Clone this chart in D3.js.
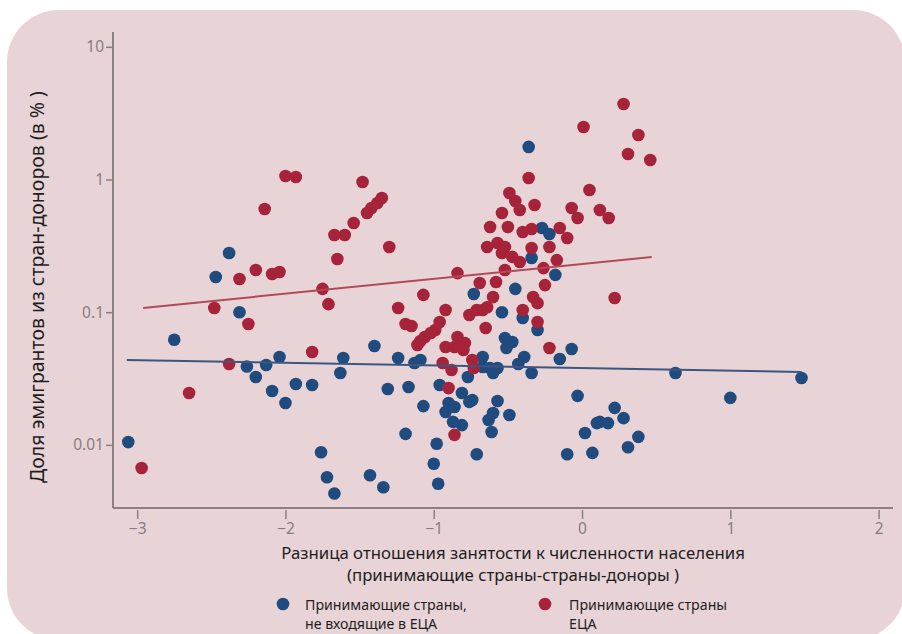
<!DOCTYPE html>
<html>
<head>
<meta charset="utf-8">
<script src="https://cdn.jsdelivr.net/npm/d3@7"></script>
<style>
  html, body { margin: 0; padding: 0; background: #ffffff; }
  svg { display: block; }
  text { font-family: "Noto Sans", "Open Sans", sans-serif; }
</style>
</head>
<body>
<svg id="chart" width="902" height="634"></svg>
<script>
// Non-ECA host countries: [employment-ratio gap, emigrant share %]
const nonEcaX = [-3.06,-2.75,-2.47,-2.38,-2.31,-2.26,-2.20,-2.13,-2.09,-2.04,-2.00,-1.93,-1.82,-1.76,-1.72,-1.67,-1.63,-1.61,-1.43,-1.40,
  -1.34,-1.31,-1.24,-1.19,-1.17,-1.13,-1.09,-1.07,-0.98,-1.00,-0.97,-0.96,-0.92,-0.90,-0.86,-0.87,-0.81,-0.81,-0.76,-0.77,
  -0.74,-0.73,-0.71,-0.67,-0.67,-0.63,-0.62,-0.61,-0.60,-0.60,-0.57,-0.57,-0.54,-0.52,-0.49,-0.51,-0.47,-0.49,-0.45,-0.43,
  -0.40,-0.39,-0.36,-0.34,-0.34,-0.30,-0.27,-0.22,-0.18,-0.15,-0.07,-0.10,-0.03,0.02,0.07,0.10,0.12,0.175,0.22,0.28,
  0.31,0.38,0.63,1.00,1.48];
const nonEcaY = [0.0105,0.062,0.184,0.279,0.100,0.039,0.0325,0.040,0.0255,0.046,0.0207,0.0288,0.0283,0.0088,0.0057,0.0043,0.0348,0.0452,0.0059,0.0556,
  0.0048,0.0264,0.0452,0.0121,0.0273,0.0414,0.0436,0.0196,0.0102,0.0072,0.0051,0.0283,0.0177,0.0207,0.0193,0.0149,0.0141,0.0246,0.0211,0.0325,
  0.0218,0.137,0.0085,0.0386,0.046,0.0154,0.038,0.0125,0.0174,0.0348,0.038,0.0214,0.100,0.0639,0.0586,0.0537,0.0596,0.0168,0.150,0.0407,
  0.0904,0.046,1.76,0.0348,0.256,0.0734,0.431,0.388,0.191,0.0444,0.0528,0.0085,0.0234,0.0123,0.0087,0.0146,0.0149,0.0146,0.019,0.0159,
  0.0096,0.0115,0.0348,0.0226,0.0319];

// ECA host countries
const ecaX = [-2.97,-2.65,-2.48,-2.38,-2.31,-2.25,-2.20,-2.14,-2.09,-2.04,-2.00,-1.93,-1.82,-1.75,-1.71,-1.67,-1.60,-1.65,-1.54,-1.48,
  -1.45,-1.42,-1.38,-1.35,-1.30,-1.24,-1.19,-1.15,-1.07,-1.11,-1.09,-1.06,-1.02,-0.99,-0.96,-0.92,-0.92,-0.94,-0.88,-0.90,
  -0.86,-0.84,-0.84,-0.79,-0.86,-0.80,-0.76,-0.71,-0.67,-0.74,-0.73,-0.69,-0.58,-0.65,-0.60,-0.64,-0.62,-0.64,-0.57,-0.52,
  -0.54,-0.54,-0.52,-0.49,-0.45,-0.42,-0.50,-0.47,-0.42,-0.40,-0.34,-0.40,-0.36,-0.34,-0.32,-0.33,-0.30,-0.30,-0.26,-0.25,
  -0.22,-0.17,-0.22,-0.15,-0.10,-0.07,-0.03,0.01,0.05,0.12,0.18,0.22,0.28,0.31,0.38,0.46];
const ecaY = [0.0067,0.0246,0.1075,0.0407,0.178,0.0815,0.208,0.599,0.194,0.201,1.063,1.044,0.0501,0.150,0.115,0.382,0.382,0.252,0.470,0.958,
  0.559,0.610,0.665,0.726,0.310,0.1075,0.0815,0.0787,0.135,0.0566,0.0607,0.065,0.0697,0.0734,0.0844,0.104,0.0547,0.0414,0.0367,0.0268,
  0.0119,0.197,0.065,0.0586,0.0547,0.0519,0.0953,0.104,0.104,0.0436,0.038,0.166,0.169,0.076,0.130,0.109,0.439,0.310,0.332,0.310,
  0.279,0.559,0.208,0.791,0.689,0.589,0.439,0.261,0.239,0.402,0.424,0.104,1.026,0.305,0.643,0.130,0.117,0.0844,0.215,0.160,
  0.310,0.247,0.0537,0.431,0.362,0.610,0.513,2.49,0.834,0.589,0.513,0.128,3.71,1.556,2.165,1.403];

// Fitted trend lines: [x start, x end], [y start, y end]
const nonEcaFitX = [-3.07, 1.48];
const nonEcaFitY = [0.0436, 0.0354];
const ecaFitX = [-2.96, 0.47];
const ecaFitY = [0.1076, 0.2606];

const xTicks = [-3, -2, -1, 0, 1, 2];
const yTicks = [0.01, 0.1, 1, 10];
const yTickLabels = ["0.01", "0.1", "1", "10"];

const yTitle = "Доля эмигрантов из стран-доноров (в % )";
const xTitle = ["Разница отношения занятости к численности населения", "(принимающие страны-страны-доноры )"];
const legendLabels = [["Принимающие страны,", "не входящие в ЕЦА"], ["Принимающие страны", "ЕЦА"]];

const blue = "#1f4b7f";
const red = "#a72339";
const axisColor = "#8e7f83";
const tickText = "#877c80";

const svg = d3.select("#chart");

// panel background
svg.append("rect")
  .attr("x", 7).attr("y", 10)
  .attr("width", 898).attr("height", 630)
  .attr("rx", 52).attr("ry", 52)
  .attr("fill", "#e8d4d6");

const plotLeft = 113, plotRight = 893, plotTop = 32, plotBottom = 508;
const x = d3.scaleLinear().domain([-3.163, 2.097]).range([plotLeft, plotRight]);
const y = d3.scaleLog().domain([0.003345, 12.93]).range([plotBottom, plotTop]);

// axes
const xAxis = svg.append("g")
  .attr("transform", `translate(0,${plotBottom + 2})`)
  .call(d3.axisBottom(x).tickValues(xTicks).tickSize(9).tickPadding(4)
    .tickFormat(d => d < 0 ? "\u2212" + Math.abs(d) : String(d)));
xAxis.select(".domain").remove();
xAxis.selectAll(".tick line").attr("stroke", axisColor).attr("stroke-width", 1.5);
xAxis.selectAll(".tick text").attr("fill", tickText).attr("font-size", 15.5)
  .attr("font-family", "'Noto Sans', sans-serif");

const yAxis = svg.append("g")
  .attr("transform", `translate(${plotLeft - 1},0)`)
  .call(d3.axisLeft(y).tickValues(yTicks).tickSize(6).tickPadding(2)
    .tickFormat((d, i) => yTickLabels[i]));
yAxis.select(".domain").remove();
yAxis.selectAll(".tick line").attr("stroke", axisColor).attr("stroke-width", 1.5);
yAxis.selectAll(".tick text").attr("fill", tickText).attr("font-size", 15.5)
  .attr("font-family", "'Noto Sans', sans-serif");

svg.append("line").attr("x1", plotLeft).attr("x2", plotLeft).attr("y1", plotTop).attr("y2", plotBottom)
  .attr("stroke", axisColor).attr("stroke-width", 2);
svg.append("line").attr("x1", plotLeft).attr("x2", plotRight).attr("y1", plotBottom).attr("y2", plotBottom)
  .attr("stroke", axisColor).attr("stroke-width", 2);

// points
const nonEca = nonEcaX.map((v, i) => ({ x: v, y: nonEcaY[i] }));
const eca = ecaX.map((v, i) => ({ x: v, y: ecaY[i] }));

svg.append("g").selectAll("circle").data(nonEca).join("circle")
  .attr("cx", d => x(d.x)).attr("cy", d => y(d.y)).attr("r", 6.3)
  .attr("fill", blue);
svg.append("g").selectAll("circle").data(eca).join("circle")
  .attr("cx", d => x(d.x)).attr("cy", d => y(d.y)).attr("r", 6.3)
  .attr("fill", red);

// trend lines
const line = d3.line().x(d => x(d[0])).y(d => y(d[1]));
svg.append("path")
  .attr("d", line(nonEcaFitX.map((v, i) => [v, nonEcaFitY[i]])))
  .attr("stroke", "#3b5680").attr("stroke-width", 2).attr("fill", "none");
svg.append("path")
  .attr("d", line(ecaFitX.map((v, i) => [v, ecaFitY[i]])))
  .attr("stroke", "#b24a56").attr("stroke-width", 2).attr("fill", "none");

// axis titles
svg.append("text")
  .attr("transform", "translate(44,287) rotate(-90)")
  .attr("text-anchor", "middle")
  .attr("font-size", 19.5).attr("fill", "#1e1e1e")
  .text(yTitle);

svg.append("g").selectAll("text").data(xTitle).join("text")
  .attr("x", 513).attr("y", (d, i) => 559 + i * 22)
  .attr("text-anchor", "middle")
  .attr("font-size", 16.8).attr("fill", "#1e1e1e")
  .text(d => d);

// legend
const legendColors = [blue, red];
const legendPos = [[283, 305], [545, 569]];
legendLabels.forEach((lines, k) => {
  svg.append("circle").attr("cx", legendPos[k][0]).attr("cy", 604).attr("r", 6.3)
    .attr("fill", legendColors[k]);
  svg.append("g").selectAll("text").data(lines).join("text")
    .attr("x", legendPos[k][1]).attr("y", (d, i) => 610 + i * 19)
    .attr("font-size", 14.2).attr("fill", "#1e1e1e")
    .text(d => d);
});
</script>
</body>
</html>
